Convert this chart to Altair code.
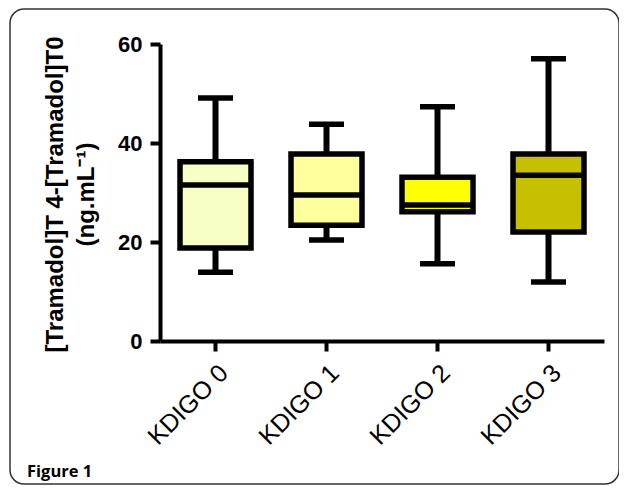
import altair as alt
import pandas as pd

groups = ["KDIGO 0", "KDIGO 1", "KDIGO 2", "KDIGO 3"]
whisker_low = [13.9, 20.4, 15.6, 11.9]
q1 = [18.8, 23.4, 26.1, 22.0]
median = [31.5, 29.5, 27.5, 33.5]
q3 = [36.2, 37.8, 33.1, 37.8]
whisker_high = [49.1, 43.8, 47.3, 57.0]
colors = ["#F8FDC4", "#FFFF9C", "#FFFF00", "#C6C000"]
y_ticks = [0, 20, 40, 60]

df = pd.DataFrame({
    "group": groups, "lo": whisker_low, "q1": q1, "med": median,
    "q3": q3, "hi": whisker_high,
})

x = alt.X("group:N", sort=groups,
          scale=alt.Scale(paddingInner=0, paddingOuter=0),
          axis=alt.Axis(title=None, labelAngle=-45, labelFontWeight="normal",
                        labelFont="Liberation Sans",
                        labelFontSize=25, labelPadding=9))
yscale = alt.Scale(domain=[0, 60], nice=False)
yaxis = alt.Axis(values=y_ticks, grid=False,
                 title=["[Tramadol]T 4-[Tramadol]T0", "(ng.mL⁻¹)"],
                 titleFont="Liberation Sans",
                 titleFontSize=24, titleFontWeight="bold", titleLineHeight=31,
                 titleAngle=270, titleAlign="center", titleBaseline="bottom",
                 titleX=-93, titleY=150, labelPadding=8,
                 labelFont="Liberation Sans", labelFontSize=22)

base = alt.Chart(df)

whisk = base.mark_rule(color="black", strokeWidth=6, opacity=1).encode(
    x=x, y=alt.Y("lo:Q", scale=yscale, axis=yaxis), y2="hi:Q")
box = base.mark_bar(size=71, stroke="black", strokeWidth=5.5, opacity=1).encode(
    x=x, y=alt.Y("q1:Q", scale=yscale), y2="q3:Q",
    color=alt.Color("group:N", scale=alt.Scale(domain=groups, range=colors), legend=None))
med = base.mark_tick(size=72, thickness=5.5, color="black", opacity=1).encode(
    x=x, y=alt.Y("med:Q", scale=yscale))
cap_lo = base.mark_tick(size=35, thickness=5.5, color="black", opacity=1).encode(
    x=x, y=alt.Y("lo:Q", scale=yscale))
cap_hi = base.mark_tick(size=35, thickness=5.5, color="black", opacity=1).encode(
    x=x, y=alt.Y("hi:Q", scale=yscale))

frame = alt.Chart(alt.Data(values=[{"a": 1}])).mark_rect(
    fillOpacity=0, stroke="#333333", strokeWidth=1.5, cornerRadius=14
).encode(x=alt.value(-150), x2=alt.value(459), y=alt.value(-35), y2=alt.value(440))

fig = alt.Chart(alt.Data(values=[{"t": "Figure 1"}])).mark_text(
    font="Open Sans", fontWeight="bold", fontSize=16.5, align="left",
    baseline="alphabetic", color="black"
).encode(text="t:N", x=alt.value(-133), y=alt.value(433))

chart = alt.layer(frame, whisk, box, med, cap_lo, cap_hi, fig).properties(
    width=444, height=297, autosize="none",
    padding={"left": 152, "top": 36, "right": 15, "bottom": 144},
).configure_view(stroke=None).configure_axis(
    domainColor="black", domainWidth=4, tickColor="black", tickWidth=4,
    tickSize=10, labelColor="black", labelFont="Liberation Sans",
    labelFontWeight="bold", labelFontSize=22, titleFont="Liberation Sans",
    titleColor="black",
)

chart.save("out.html", embed_options={"renderer": "svg", "actions": False})
